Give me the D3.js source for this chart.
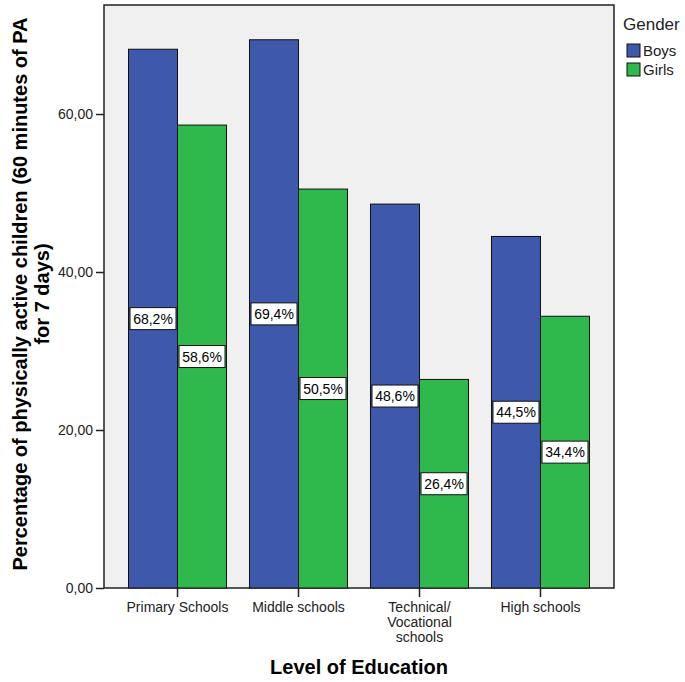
<!DOCTYPE html>
<html><head><meta charset="utf-8">
<script src="https://cdn.jsdelivr.net/npm/d3@7"></script>
<style>body{margin:0;background:#fff}svg{display:block}text{font-family:"Liberation Sans",Arial,sans-serif}</style>
</head><body>
<script>
const categories = ["Primary Schools","Middle schools","Technical/\nVocational\nschools","High schools"];
const seriesNames = ["Boys","Girls"];
const boys = [68.2, 69.4, 48.6, 44.5];
const girls = [58.6, 50.5, 26.4, 34.4];
const colors = ["#3e58ac","#2fb84c"];
const yTicks = [0,20,40,60];

const W=685,H=682;
const pL=104,pR=614,pT=5,pB=588;
const svg=d3.select("body").append("svg").attr("width",W).attr("height",H);

const y=d3.scaleLinear().domain([0,73.8]).range([pB,pT]);
const x=d3.scaleBand().domain(categories).range([pL,pR]).paddingInner(0.19).paddingOuter(0.2025);
const xs=d3.scaleBand().domain(seriesNames).range([0,x.bandwidth()]);

svg.append("rect").attr("x",pL).attr("y",pT).attr("width",pR-pL).attr("height",pB-pT)
  .attr("fill","#f0f0f0").attr("stroke","#222").attr("stroke-width",1.5);

const data=[boys,girls];
const g=svg.append("g");
categories.forEach((c,i)=>{
  seriesNames.forEach((s,j)=>{
    const v=data[j][i];
    g.append("rect").attr("x",x(c)+xs(s)).attr("y",y(v)).attr("width",xs.bandwidth()).attr("height",y(0)-y(v))
      .attr("fill",colors[j]).attr("stroke","#111").attr("stroke-width",1);
  });
});
categories.forEach((c,i)=>{
  seriesNames.forEach((s,j)=>{
    const v=data[j][i];
    const cx=x(c)+xs(s)+xs.bandwidth()/2, cy=y(v/2);
    g.append("rect").attr("x",cx-23).attr("y",cy-11).attr("width",46).attr("height",22)
      .attr("fill","#fff").attr("stroke","#111").attr("stroke-width",1);
    g.append("text").attr("x",cx).attr("y",cy+5).attr("text-anchor","middle").attr("font-size",14)
      .text(v.toFixed(1).replace(".",",")+"%");
  });
});

const ya=svg.append("g").attr("transform",`translate(${pL},0)`)
  .call(d3.axisLeft(y).tickValues(yTicks).tickSize(8).tickPadding(3).tickFormat(d=>d.toFixed(2).replace(".",",")));
ya.select(".domain").remove();
ya.selectAll("line").attr("stroke","#222").attr("stroke-width",1.5);
ya.selectAll("text").attr("font-size",14).attr("fill","#222");

const xa=svg.append("g").attr("transform",`translate(0,${pB})`)
  .call(d3.axisBottom(x).tickSize(9).tickFormat(""));
xa.select(".domain").remove();
xa.selectAll("line").attr("stroke","#222").attr("stroke-width",1.5);
categories.forEach(c=>{
  const lines=c.split("\n");
  const t=svg.append("text").attr("text-anchor","middle").attr("font-size",14).attr("fill","#222");
  lines.forEach((l,k)=>t.append("tspan").attr("x",x(c)+x.bandwidth()/2).attr("y",612+k*15).text(l));
});

svg.append("text").attr("x",359).attr("y",674).attr("text-anchor","middle").attr("font-size",20).attr("font-weight","bold").text("Level of Education");
const yt=svg.append("text").attr("transform",`translate(0,294) rotate(-90)`).attr("text-anchor","middle").attr("font-size",20).attr("font-weight","bold");
yt.append("tspan").attr("x",0).attr("y",27).text("Percentage of physically active children (60 minutes of PA");
yt.append("tspan").attr("x",0).attr("y",49).text("for 7 days)");

svg.append("text").attr("x",623).attr("y",30).attr("font-size",17).attr("fill","#222").text("Gender");
seriesNames.forEach((s,j)=>{
  svg.append("rect").attr("x",627).attr("y",44+j*19).attr("width",13).attr("height",13).attr("fill",colors[j]).attr("stroke","#111");
  svg.append("text").attr("x",643).attr("y",56+j*19).attr("font-size",15).attr("fill","#222").text(s);
});
</script>
</body></html>
